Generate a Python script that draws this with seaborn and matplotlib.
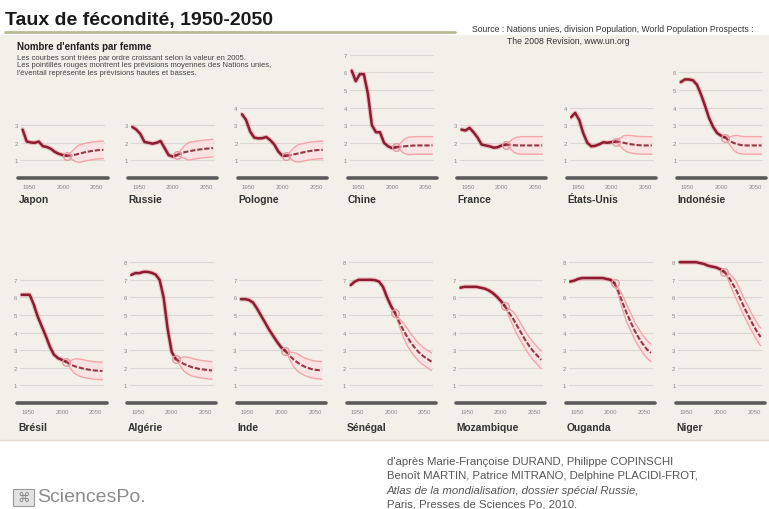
import numpy as np
import pandas as pd
import matplotlib
matplotlib.use('Agg')
import matplotlib.pyplot as plt
from matplotlib.patches import Rectangle
from matplotlib.lines import Line2D
import seaborn as sns

# periods (5-year steps), observed then projected from 2005
years_obs = [1950, 1955, 1960, 1965, 1970, 1975, 1980, 1985, 1990, 1995, 2000, 2005]
years_proj = [2005, 2010, 2015, 2020, 2025, 2030, 2035, 2040, 2045, 2050]

top_row = ['Japon', 'Russie', 'Pologne', 'Chine', 'France', 'États-Unis', 'Indonésie']
bottom_row = ['Brésil', 'Algérie', 'Inde', 'Sénégal', 'Mozambique', 'Ouganda', 'Niger']

# highest graduated line in each small panel
grid_top = {'Japon': 3, 'Russie': 3, 'Pologne': 4, 'Chine': 7, 'France': 3,
            'États-Unis': 4, 'Indonésie': 6, 'Brésil': 7, 'Algérie': 8, 'Inde': 7,
            'Sénégal': 8, 'Mozambique': 7, 'Ouganda': 8, 'Niger': 8}

fert_obs = {
    'Japon': [2.75, 2.08, 2.02, 2.00, 2.07, 1.81, 1.76, 1.66, 1.48, 1.37, 1.30, 1.27],
    'Russie': [2.90, 2.75, 2.50, 2.05, 2.00, 1.95, 2.00, 2.10, 1.70, 1.30, 1.22, 1.30],
    'Pologne': [3.62, 3.30, 2.65, 2.30, 2.25, 2.26, 2.33, 2.15, 1.90, 1.50, 1.26, 1.27],
    'Chine': [6.10, 5.50, 5.90, 5.90, 4.80, 3.00, 2.60, 2.60, 2.00, 1.80, 1.70, 1.75],
    'France': [2.75, 2.70, 2.85, 2.60, 2.30, 1.90, 1.85, 1.80, 1.72, 1.75, 1.85, 1.90],
    'États-Unis': [3.45, 3.70, 3.30, 2.55, 2.00, 1.80, 1.83, 1.92, 2.03, 2.00, 2.04, 2.07],
    'Indonésie': [5.45, 5.60, 5.60, 5.55, 5.30, 4.75, 4.10, 3.40, 2.90, 2.55, 2.40, 2.30],
    'Brésil': [6.15, 6.15, 6.15, 5.60, 4.90, 4.35, 3.80, 3.20, 2.75, 2.55, 2.45, 2.35],
    'Algérie': [7.28, 7.38, 7.38, 7.45, 7.45, 7.40, 7.30, 7.00, 6.00, 4.20, 2.90, 2.50],
    'Inde': [5.90, 5.90, 5.85, 5.70, 5.35, 4.95, 4.55, 4.15, 3.80, 3.45, 3.15, 2.95],
    'Sénégal': [6.70, 6.90, 7.00, 7.00, 7.00, 7.00, 6.98, 6.90, 6.60, 6.00, 5.50, 5.10],
    'Mozambique': [6.55, 6.60, 6.60, 6.60, 6.60, 6.55, 6.50, 6.40, 6.25, 6.05, 5.80, 5.50],
    'Ouganda': [6.90, 6.95, 7.05, 7.10, 7.10, 7.10, 7.10, 7.10, 7.10, 7.05, 7.00, 6.80],
    'Niger': [8.00, 8.00, 8.00, 8.00, 8.00, 7.95, 7.90, 7.80, 7.75, 7.70, 7.60, 7.45],
}

fert_med = {
    'Japon': [1.27, 1.27, 1.32, 1.38, 1.44, 1.49, 1.53, 1.56, 1.59, 1.60],
    'Russie': [1.30, 1.40, 1.47, 1.52, 1.56, 1.60, 1.63, 1.66, 1.68, 1.70],
    'Pologne': [1.27, 1.30, 1.35, 1.40, 1.45, 1.50, 1.54, 1.57, 1.59, 1.60],
    'Chine': [1.75, 1.78, 1.80, 1.82, 1.84, 1.85, 1.85, 1.85, 1.85, 1.85],
    'France': [1.90, 1.88, 1.86, 1.85, 1.85, 1.85, 1.85, 1.85, 1.85, 1.85],
    'États-Unis': [2.07, 2.05, 2.00, 1.95, 1.91, 1.88, 1.86, 1.85, 1.85, 1.85],
    'Indonésie': [2.30, 2.12, 2.00, 1.92, 1.87, 1.85, 1.85, 1.85, 1.85, 1.85],
    'Brésil': [2.35, 2.20, 2.10, 2.03, 1.97, 1.92, 1.88, 1.85, 1.83, 1.82],
    'Algérie': [2.50, 2.35, 2.22, 2.12, 2.04, 1.98, 1.93, 1.90, 1.87, 1.85],
    'Inde': [2.95, 2.70, 2.47, 2.30, 2.15, 2.04, 1.96, 1.90, 1.87, 1.85],
    'Sénégal': [5.10, 4.60, 4.15, 3.75, 3.40, 3.10, 2.85, 2.65, 2.50, 2.35],
    'Mozambique': [5.50, 5.15, 4.80, 4.40, 4.00, 3.60, 3.25, 2.95, 2.70, 2.45],
    'Ouganda': [6.80, 6.30, 5.70, 5.10, 4.60, 4.10, 3.70, 3.35, 3.05, 2.85],
    'Niger': [7.45, 7.20, 6.80, 6.40, 5.90, 5.40, 4.95, 4.50, 4.10, 3.75],
}

fert_high = {
    'Japon': [1.27, 1.45, 1.70, 1.88, 1.94, 1.99, 2.03, 2.06, 2.09, 2.10],
    'Russie': [1.30, 1.58, 1.85, 2.02, 2.06, 2.10, 2.13, 2.16, 2.18, 2.20],
    'Pologne': [1.27, 1.50, 1.75, 1.90, 1.95, 2.00, 2.04, 2.07, 2.09, 2.10],
    'Chine': [1.75, 1.98, 2.20, 2.32, 2.34, 2.35, 2.35, 2.35, 2.35, 2.35],
    'France': [1.90, 2.08, 2.26, 2.33, 2.35, 2.35, 2.35, 2.35, 2.35, 2.35],
    'États-Unis': [2.07, 2.25, 2.40, 2.43, 2.41, 2.38, 2.36, 2.35, 2.35, 2.35],
    'Indonésie': [2.30, 2.32, 2.40, 2.42, 2.37, 2.35, 2.35, 2.35, 2.35, 2.35],
    'Brésil': [2.35, 2.40, 2.50, 2.50, 2.47, 2.42, 2.38, 2.35, 2.33, 2.32],
    'Algérie': [2.50, 2.55, 2.62, 2.60, 2.54, 2.48, 2.43, 2.40, 2.37, 2.35],
    'Inde': [2.95, 2.90, 2.87, 2.80, 2.65, 2.54, 2.46, 2.40, 2.37, 2.35],
    'Sénégal': [5.10, 4.80, 4.55, 4.25, 3.90, 3.60, 3.35, 3.15, 3.00, 2.85],
    'Mozambique': [5.50, 5.35, 5.20, 4.90, 4.50, 4.10, 3.75, 3.45, 3.20, 2.95],
    'Ouganda': [6.80, 6.50, 6.10, 5.60, 5.10, 4.60, 4.20, 3.85, 3.55, 3.35],
    'Niger': [7.45, 7.40, 7.20, 6.90, 6.40, 5.90, 5.45, 5.00, 4.60, 4.25],
}

fert_low = {
    'Japon': [1.27, 1.09, 0.94, 0.88, 0.94, 0.99, 1.03, 1.06, 1.09, 1.10],
    'Russie': [1.30, 1.20, 1.10, 1.02, 1.06, 1.10, 1.13, 1.16, 1.18, 1.20],
    'Pologne': [1.27, 1.10, 0.95, 0.90, 0.95, 1.00, 1.04, 1.07, 1.09, 1.10],
    'Chine': [1.75, 1.58, 1.40, 1.32, 1.34, 1.35, 1.35, 1.35, 1.35, 1.35],
    'France': [1.90, 1.68, 1.46, 1.37, 1.35, 1.35, 1.35, 1.35, 1.35, 1.35],
    'États-Unis': [2.07, 1.85, 1.60, 1.47, 1.41, 1.38, 1.36, 1.35, 1.35, 1.35],
    'Indonésie': [2.30, 1.92, 1.60, 1.42, 1.37, 1.35, 1.35, 1.35, 1.35, 1.35],
    'Brésil': [2.35, 2.00, 1.70, 1.56, 1.47, 1.42, 1.38, 1.35, 1.33, 1.32],
    'Algérie': [2.50, 2.15, 1.82, 1.64, 1.54, 1.48, 1.43, 1.40, 1.37, 1.35],
    'Inde': [2.95, 2.50, 2.07, 1.80, 1.65, 1.54, 1.46, 1.40, 1.37, 1.35],
    'Sénégal': [5.10, 4.40, 3.75, 3.25, 2.90, 2.60, 2.35, 2.15, 2.00, 1.85],
    'Mozambique': [5.50, 4.95, 4.40, 3.90, 3.50, 3.10, 2.75, 2.45, 2.20, 1.95],
    'Ouganda': [6.80, 6.10, 5.30, 4.60, 4.10, 3.60, 3.20, 2.85, 2.55, 2.35],
    'Niger': [7.45, 7.00, 6.40, 5.90, 5.40, 4.90, 4.45, 4.00, 3.60, 3.25],
}

W, H = 769, 510
sns.set_theme(style='white')
plt.rcParams['font.family'] = ['Liberation Sans', 'DejaVu Sans']

fig = plt.figure(figsize=(W / 100, H / 100), dpi=100)
fig.patch.set_facecolor('white')


def fx(px):
    return px / W


def fy(py):
    return 1 - py / H


# beige background band behind the panels
fig.patches.append(Rectangle((0, fy(441)), 1, fy(36) - fy(441), transform=fig.transFigure,
                             facecolor='#f3f0ea', edgecolor='none', zorder=-5))
fig.lines.append(Line2D([0, 1], [fy(441), fy(441)], transform=fig.transFigure,
                        color='#eadbd0', lw=1))

OBS_COL = '#8c1c30'
MED_COL = '#943845'
BAND_COL = '#f3a6aa'


def draw_panel(name, left_px, base_px, ymax):
    unit = 17.6
    top_px = base_px - ymax * unit
    ax = fig.add_axes([fx(left_px), fy(base_px), fx(84), (base_px - top_px) / H])
    ax.set_facecolor('none')
    ax.set_xlim(1948, 2052)
    ax.set_ylim(0, ymax)

    ax.fill_between(years_proj, fert_low[name], fert_high[name], color='#fbe1e2', alpha=0.8, lw=0)
    sns.lineplot(x=years_proj, y=fert_high[name], ax=ax, color=BAND_COL, lw=1.0)
    sns.lineplot(x=years_proj, y=fert_low[name], ax=ax, color=BAND_COL, lw=1.0)
    sns.lineplot(x=years_obs, y=fert_obs[name], ax=ax, color='#e58f9c', lw=3.4, alpha=0.5)
    sns.lineplot(x=years_obs, y=fert_obs[name], ax=ax, color=OBS_COL, lw=1.8)
    sns.lineplot(x=years_proj, y=fert_med[name], ax=ax, color=MED_COL, lw=1.5,
                 linestyle=(0, (2.5, 0.9)))
    ax.plot(years_proj[0], fert_med[name][0], 'o', ms=5.5, mfc='none', mec='#e79aa4', mew=1.0)

    n = grid_top[name]
    ax.set_yticks(range(1, n + 1))
    ax.set_yticklabels([str(v) for v in range(1, n + 1)])
    ax.grid(axis='y', color='#dcd7d2', lw=0.8)
    ax.grid(axis='x', visible=False)
    ax.axhline(0, color='#5a5a5a', lw=2.6, clip_on=False, xmin=-0.03, xmax=1.03)

    ax.set_xticks([1950, 2000, 2050])
    ax.set_xticklabels(['1950', '2000', '2050'])
    for lbl, ha in zip(ax.get_xticklabels(), ['left', 'center', 'right']):
        lbl.set_horizontalalignment(ha)
    ax.tick_params(axis='both', length=0, labelsize=4.3, labelcolor='#8a8a8a')
    ax.tick_params(axis='x', pad=4)
    ax.tick_params(axis='y', pad=2)
    for sp in ax.spines.values():
        sp.set_visible(False)
    ax.set_xlabel('')
    ax.set_ylabel('')
    return ax


for i, name in enumerate(top_row):
    left = 21 + 109.7 * i
    draw_panel(name, left, 179, 7.4)
    fig.text(fx(left - 2), fy(200), name, fontsize=7.4, fontweight='bold', color='#333333',
             va='center', ha='left')

for i, name in enumerate(bottom_row):
    left = 20 + 109.7 * i
    draw_panel(name, left, 404, 8.4)
    fig.text(fx(left - 2), fy(428), name, fontsize=7.4, fontweight='bold', color='#333333',
             va='center', ha='left')

# header
fig.text(fx(5), fy(21), 'Taux de fécondité, 1950-2050', fontsize=14, fontweight='bold',
         color='#1a1a1a', va='center', ha='left',
         family=['Liberation Sans Narrow', 'Liberation Sans', 'DejaVu Sans'])
fig.lines.append(Line2D([fx(5), fx(455)], [fy(33), fy(33)], transform=fig.transFigure,
                        color='#b9b894', lw=2))
fig.text(fx(472), fy(30), 'Source : Nations unies, division Population, World Population Prospects :',
         fontsize=6.2, color='#333333', va='center', ha='left')
fig.text(fx(507), fy(42), 'The 2008 Revision, www.un.org', fontsize=6.2, color='#333333',
         va='center', ha='left')

fig.text(fx(17), fy(47), "Nombre d'enfants par femme", fontsize=7, fontweight='bold',
         color='#222222', va='center', ha='left')
notes = ['Les courbes sont triées par ordre croissant selon la valeur en 2005.',
         'Les pointillés rouges montrent les prévisions moyennes des Nations unies,',
         "l'éventail représente les prévisions hautes et basses."]
for k, line in enumerate(notes):
    fig.text(fx(17), fy(58 + 7.6 * k), line, fontsize=5.5, color='#444444',
             va='center', ha='left')

# footer
fig.patches.append(Rectangle((fx(13), fy(507)), fx(21), fy(490) - fy(507), transform=fig.transFigure,
                             facecolor='#e2e2e2', edgecolor='#9a9a9a', lw=0.8))
fig.text(fx(24), fy(498.5), '⌘', fontsize=9, color='#8a8a8a', va='center', ha='center',
         family=['DejaVu Sans'])
fig.text(fx(37), fy(498), 'SciencesPo.', fontsize=14, color='#8c8c8c', va='center', ha='left')

credits = [("d'après Marie-Françoise DURAND, Philippe COPINSCHI", 'normal'),
           ('Benoît MARTIN, Patrice MITRANO, Delphine PLACIDI-FROT,', 'normal'),
           ('Atlas de la mondialisation, dossier spécial Russie,', 'italic'),
           ('Paris, Presses de Sciences Po, 2010.', 'normal')]
for k, (line, style) in enumerate(credits):
    fig.text(fx(387), fy(462 + 14.3 * k), line, fontsize=8.2, color='#555555', style=style,
             va='center', ha='left')

fig.savefig('out.png', dpi=100)
